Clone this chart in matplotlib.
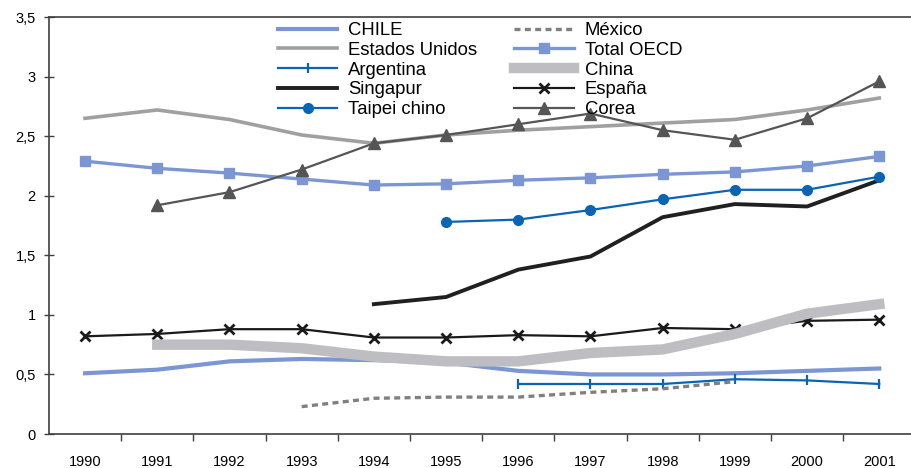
import numpy as np
import matplotlib
matplotlib.use("Agg")
import matplotlib.pyplot as plt
from matplotlib.ticker import FuncFormatter

plt.rcParams['font.family'] = ['Liberation Sans', 'DejaVu Sans']

years = [str(y) for y in range(1990, 2002)]
nan = np.nan

chile = [0.51, 0.54, 0.61, 0.63, 0.62, 0.60, 0.53, 0.50, 0.50, 0.51, 0.53, 0.55]
eeuu = [2.65, 2.72, 2.64, 2.51, 2.44, 2.51, 2.55, 2.58, 2.61, 2.64, 2.72, 2.82]
argentina = [nan, nan, nan, nan, nan, nan, 0.42, 0.42, 0.42, 0.46, 0.45, 0.42]
singapur = [nan, nan, nan, nan, 1.09, 1.15, 1.38, 1.49, 1.82, 1.93, 1.91, 2.13]
taipei = [nan, nan, nan, nan, nan, 1.78, 1.80, 1.88, 1.97, 2.05, 2.05, 2.16]
mexico = [nan, nan, nan, 0.23, 0.30, 0.31, 0.31, 0.35, 0.38, 0.44, nan, nan]
oecd = [2.29, 2.23, 2.19, 2.14, 2.09, 2.10, 2.13, 2.15, 2.18, 2.20, 2.25, 2.33]
china = [nan, 0.75, 0.75, 0.72, 0.65, 0.61, 0.61, 0.68, 0.71, 0.84, 1.01, 1.09]
espana = [0.82, 0.84, 0.88, 0.88, 0.81, 0.81, 0.83, 0.82, 0.89, 0.88, 0.95, 0.96]
corea = [nan, 1.92, 2.03, 2.22, 2.44, 2.51, 2.60, 2.69, 2.55, 2.47, 2.65, 2.96]

x = np.arange(len(years))

fig = plt.figure(figsize=(9.12, 4.68), dpi=100)
ax = fig.add_axes([0.0537, 0.0726, 0.95, 0.891])

blue = '#0a64b4'
lblue = '#7b96d2'

ax.plot(x, chile, color=lblue, lw=3.0, label='CHILE', zorder=3)
ax.plot(x, eeuu, color='#a0a0a0', lw=2.6, label='Estados Unidos', zorder=3)
ax.plot(x, argentina, color=blue, lw=1.6, marker='|', ms=7, mew=1.6,
        label='Argentina', zorder=4)
ax.plot(x, singapur, color='#202020', lw=2.8, label='Singapur', zorder=3)
ax.plot(x, taipei, color=blue, lw=1.6, marker='o', ms=7, label='Taipei chino', zorder=4)
ax.plot(x, mexico, color='#808080', lw=2.4, dashes=(1.8, 1.3), label='México', zorder=5)
ax.plot(x, oecd, color=lblue, lw=2.4, marker='s', ms=6.5, label='Total OECD', zorder=4)
ax.plot(x, china, color='#bebec2', lw=7.5, label='China', zorder=6)
ax.plot(x, espana, color='#1a1a1a', lw=1.6, marker='x', ms=6.5, mew=2,
        label='España', zorder=5)
ax.plot(x, corea, color='#555555', lw=1.6, marker='^', ms=8, label='Corea', zorder=5)

ax.set_xlim(-0.5, 11.5)
ax.set_ylim(0, 3.5)
ax.set_yticks(np.arange(0, 3.51, 0.5))
ax.yaxis.set_major_formatter(FuncFormatter(lambda v, p: ('%g' % v).replace('.', ',')))
ax.set_xticks(x)
ax.set_xticklabels(years)
ax.set_xticks(x[:-1] + 0.5, minor=True)
ax.tick_params(axis='x', which='major', length=0, pad=15, labelsize=10.5)
ax.tick_params(axis='x', which='minor', length=5, direction='out', width=1, color='#404040')
ax.tick_params(axis='y', length=7, direction='inout', width=1, color='#404040',
               labelsize=10.5, pad=6)

for s in ['left', 'bottom', 'top']:
    ax.spines[s].set_color('#404040')
    ax.spines[s].set_linewidth(1.2)
ax.spines['right'].set_visible(False)

ax.legend(ncol=2, loc='upper left', bbox_to_anchor=(0.305, 0.953),
          bbox_transform=fig.transFigure, frameon=False,
          fontsize=13.3, handlelength=3.2, labelspacing=0.15, columnspacing=2.0,
          handletextpad=0.6, borderpad=0, borderaxespad=0)

fig.savefig('out.png', dpi=100)
